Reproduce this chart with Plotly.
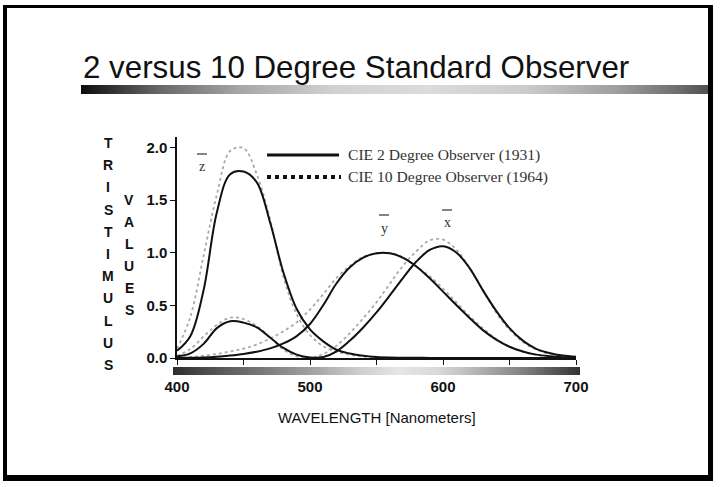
import plotly.graph_objects as go

W, H = 720, 487

# ---------------- data ----------------
wavelength = [400, 410, 420, 430, 440, 450, 460, 470, 480, 490, 500, 510, 520, 530, 540,
              550, 560, 570, 580, 590, 600, 610, 620, 630, 640, 650, 660, 670, 680, 690, 700]

# CIE 1931 2-degree observer
x2 = [0.0143, 0.0435, 0.1344, 0.2839, 0.3483, 0.3362, 0.2908, 0.1954, 0.0956, 0.0320, 0.0049,
      0.0093, 0.0633, 0.1655, 0.2904, 0.4334, 0.5945, 0.7621, 0.9163, 1.0263, 1.0622, 1.0026,
      0.8544, 0.6424, 0.4479, 0.2835, 0.1649, 0.0874, 0.0468, 0.0227, 0.0114]
y2 = [0.0004, 0.0012, 0.0040, 0.0116, 0.0230, 0.0380, 0.0600, 0.0910, 0.1390, 0.2080, 0.3230,
      0.5030, 0.7100, 0.8620, 0.9540, 0.9950, 0.9950, 0.9520, 0.8700, 0.7570, 0.6310, 0.5030,
      0.3810, 0.2650, 0.1750, 0.1070, 0.0610, 0.0320, 0.0170, 0.0082, 0.0041]
z2 = [0.0679, 0.2074, 0.6456, 1.3856, 1.7471, 1.7721, 1.6692, 1.2876, 0.8130, 0.4652, 0.2720,
      0.1582, 0.0782, 0.0422, 0.0203, 0.0087, 0.0039, 0.0021, 0.0017, 0.0011, 0.0008, 0.0003,
      0.0002, 0.0, 0.0, 0.0, 0.0, 0.0, 0.0, 0.0, 0.0]

# CIE 1964 10-degree observer
x10 = [0.0191, 0.0847, 0.2045, 0.3147, 0.3837, 0.3707, 0.3023, 0.1956, 0.0805, 0.0162, 0.0038,
       0.0375, 0.1177, 0.2365, 0.3768, 0.5298, 0.7052, 0.8787, 1.0142, 1.1185, 1.1240, 1.0305,
       0.8563, 0.6475, 0.4316, 0.2683, 0.1526, 0.0813, 0.0409, 0.0199, 0.0096]
y10 = [0.0020, 0.0088, 0.0214, 0.0387, 0.0621, 0.0895, 0.1282, 0.1852, 0.2536, 0.3391, 0.4608,
       0.6067, 0.7618, 0.8752, 0.9620, 0.9918, 0.9973, 0.9556, 0.8689, 0.7774, 0.6583, 0.5280,
       0.3981, 0.2835, 0.1798, 0.1076, 0.0603, 0.0318, 0.0159, 0.0077, 0.0037]
z10 = [0.0860, 0.3894, 0.9725, 1.5535, 1.9673, 1.9948, 1.7454, 1.3176, 0.7721, 0.4153, 0.2185,
       0.1120, 0.0607, 0.0305, 0.0137, 0.0040, 0.0, 0.0, 0.0, 0.0, 0.0, 0.0,
       0.0, 0.0, 0.0, 0.0, 0.0, 0.0, 0.0, 0.0, 0.0]

x_tick_vals = [400, 450, 500, 550, 600, 650, 700]
x_tick_text = ["400", "", "500", "", "600", "", "700"]
y_tick_vals = [0.0, 0.5, 1.0, 1.5, 2.0]
y_tick_text = ["0.0", "0.5", "1.0", "1.5", "2.0"]

# grey-level gradient of the spectrum strip under the axis (0 = black, 1 = white)
strip_pos = [0, 0.08, 0.2, 0.33, 0.45, 0.55, 0.65, 0.75, 0.85, 0.93, 1.0]
strip_lum = [0.18, 0.30, 0.45, 0.62, 0.80, 0.90, 0.85, 0.70, 0.52, 0.35, 0.20]
# grey-level gradient of the title underline
rule_pos = [0, 0.05, 0.12, 0.25, 0.4, 0.55, 0.7, 0.85, 0.95, 1.0]
rule_lum = [0.05, 0.20, 0.40, 0.65, 0.82, 0.86, 0.80, 0.62, 0.42, 0.30]

title_text = "2 versus 10 Degree Standard Observer"
legend_labels = ["CIE 2 Degree Observer (1931)", "CIE 10 Degree Observer (1964)"]
y_title_1 = "TRISTIMULUS"
y_title_2 = "VALUES"
x_title = "WAVELENGTH [Nanometers]"


def px(x):
    return x / W


def py(y):
    return 1 - y / H


fig = go.Figure()

solid = dict(color="#111111", width=2)
dotted = dict(color="#aaaaaa", width=1.8, dash="dot")
for ser in (z10, x10, y10):
    fig.add_trace(go.Scatter(x=wavelength, y=ser, mode="lines", line=dotted,
                             line_shape="spline", showlegend=False, hoverinfo="skip"))
for ser in (z2, x2, y2):
    fig.add_trace(go.Scatter(x=wavelength, y=ser, mode="lines", line=solid,
                             line_shape="spline", showlegend=False, hoverinfo="skip"))

# spectrum strip
fig.add_trace(go.Heatmap(x=strip_pos, y=[0], z=[strip_lum], xaxis="x2", yaxis="y2",
                         colorscale=[[0, "black"], [1, "white"]], zmin=0, zmax=1,
                         zsmooth="best", showscale=False, hoverinfo="skip"))
# title rule
fig.add_trace(go.Heatmap(x=rule_pos, y=[0], z=[rule_lum], xaxis="x3", yaxis="y3",
                         colorscale=[[0, "black"], [1, "white"]], zmin=0, zmax=1,
                         zsmooth="best", showscale=False, hoverinfo="skip"))

fig.update_layout(
    width=W, height=H,
    margin=dict(l=0, r=0, t=0, b=0, pad=0, autoexpand=False),
    paper_bgcolor="white", plot_bgcolor="rgba(0,0,0,0)",
    xaxis=dict(domain=[px(177), px(576)], range=[400, 700], anchor="y", automargin=False,
               tickvals=x_tick_vals, ticktext=x_tick_text, ticks="outside", ticklen=5,
               tickwidth=1.2, tickcolor="#111", showline=True, linecolor="#111", linewidth=1.5,
               showgrid=False, zeroline=False, ticklabelstandoff=9,
               tickfont=dict(family="Liberation Sans, Arial", size=15, color="#111",
                             weight="bold")),
    yaxis=dict(domain=[py(358), py(137)], range=[0, 2.1], anchor="x", automargin=False,
               tickvals=y_tick_vals, ticktext=y_tick_text, ticks="outside", ticklen=5,
               tickwidth=1.2, tickcolor="#111", showline=True, linecolor="#111", linewidth=1.5,
               showgrid=False, zeroline=False,
               tickfont=dict(family="Liberation Sans, Arial", size=15, color="#111",
                             weight="bold")),
    xaxis2=dict(domain=[px(173), px(580)], range=[0, 1], anchor="y2", visible=False,
                automargin=False),
    yaxis2=dict(domain=[py(375), py(367)], range=[-0.5, 0.5], anchor="x2", visible=False,
                automargin=False),
    xaxis3=dict(domain=[px(81), px(712)], range=[0, 1], anchor="y3", visible=False,
                automargin=False),
    yaxis3=dict(domain=[py(94), py(85)], range=[-0.5, 0.5], anchor="x3", visible=False,
                automargin=False),
)

shapes = []
# slide frame
for x0, y0, x1, y1 in [(3, 5, 7, 481), (3, 5, 713, 8), (708, 5, 713, 481), (3, 475, 713, 481)]:
    shapes.append(dict(type="rect", xref="paper", yref="paper", x0=px(x0), x1=px(x1),
                       y0=py(y1), y1=py(y0), fillcolor="black", line=dict(width=0)))
# legend samples
shapes.append(dict(type="line", xref="paper", yref="paper", x0=px(267), x1=px(339),
                   y0=py(155), y1=py(155), line=dict(color="#111", width=3)))
shapes.append(dict(type="line", xref="paper", yref="paper", x0=px(267), x1=px(341),
                   y0=py(177), y1=py(177), line=dict(color="#111", width=4, dash="dot")))
# overbars on labels
for cx, cy in [(202, 154), (384, 215), (447, 210)]:
    shapes.append(dict(type="line", xref="paper", yref="paper", x0=px(cx - 5), x1=px(cx + 5),
                       y0=py(cy), y1=py(cy), line=dict(color="#333", width=1.2)))
fig.update_layout(shapes=shapes)

ann = []
ann.append(dict(text=title_text, xref="paper", yref="paper", x=px(81), y=py(68),
                xanchor="left", yanchor="middle", showarrow=False,
                font=dict(family="Liberation Sans, Arial", size=31.3, color="#111")))
for i, lab in enumerate(legend_labels):
    ann.append(dict(text=lab, xref="paper", yref="paper", x=px(346), y=py(155 + 22 * i),
                    xanchor="left", yanchor="middle", showarrow=False,
                    font=dict(family="Liberation Serif, Times New Roman", size=15.6,
                              color="#333")))
for lab, cx, cy in [("z", 202, 166), ("y", 384, 228), ("x", 447, 223)]:
    ann.append(dict(text=lab, xref="paper", yref="paper", x=px(cx), y=py(cy),
                    xanchor="center", yanchor="middle", showarrow=False,
                    font=dict(family="Liberation Serif, Times New Roman", size=14, color="#333")))
for i, ch in enumerate(y_title_1):
    ann.append(dict(text=ch, xref="paper", yref="paper", x=px(108), y=py(143 + 22.2 * i),
                    xanchor="center", yanchor="middle", showarrow=False,
                    font=dict(family="Liberation Sans, Arial", size=14, color="#111",
                              weight="bold")))
for i, ch in enumerate(y_title_2):
    ann.append(dict(text=ch, xref="paper", yref="paper", x=px(129), y=py(200 + 22 * i),
                    xanchor="center", yanchor="middle", showarrow=False,
                    font=dict(family="Liberation Sans, Arial", size=14, color="#111",
                              weight="bold")))
ann.append(dict(text=x_title, xref="paper", yref="paper", x=px(377), y=py(417),
                xanchor="center", yanchor="middle", showarrow=False,
                font=dict(family="Liberation Sans, Arial", size=15, color="#111")))
fig.update_layout(annotations=ann)

fig.write_html("out.html", config=dict(displayModeBar=False),
               post_script="document.body.style.margin='0';document.body.style.overflow='hidden';")
